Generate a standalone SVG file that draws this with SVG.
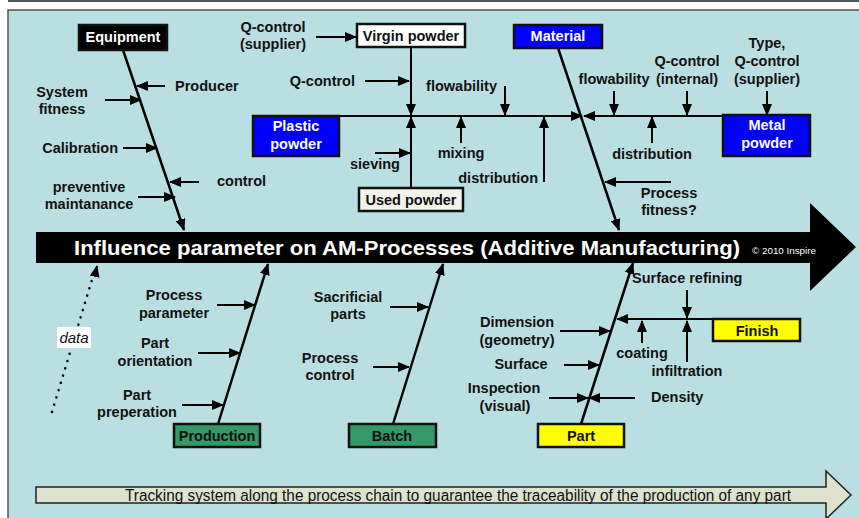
<svg xmlns="http://www.w3.org/2000/svg" width="859" height="518" viewBox="0 0 859 518">
<defs>
<marker id="ah" markerWidth="12" markerHeight="10" refX="11" refY="5" orient="auto" markerUnits="userSpaceOnUse"><path d="M0,0 L12,5 L0,10 z" fill="#000"/></marker>
<style>
.t{font-family:"Liberation Sans",Arial,sans-serif;font-size:14.5px;font-weight:bold;fill:#111}
.w{fill:#fff}
.m{text-anchor:middle}
.e{text-anchor:end}
.box{stroke:#111;stroke-width:2.5}
.c line{stroke:#000;stroke-width:2;marker-end:url(#ah)}
.c line.sp{stroke-width:2.5}
</style>
</defs>
<rect width="859" height="518" fill="#fff"/>
<line x1="8" y1="1" x2="859" y2="1" stroke="#555" stroke-width="2"/>
<rect x="8" y="10" width="860" height="520" fill="#badfe3" stroke="#555" stroke-width="1.5"/>

<g id="main-arrow">
<polygon points="36,232 810,232 810,203 856,247 810,291 810,263 36,263" fill="#000"/>
<text x="74" y="255" class="t w" style="font-size:20.5px" textLength="666" lengthAdjust="spacingAndGlyphs">Influence parameter on AM-Processes (Additive Manufacturing)</text>
<text x="752" y="254" style="font-family:'Liberation Sans',Arial,sans-serif;font-size:9px;fill:#fff" textLength="64" lengthAdjust="spacingAndGlyphs">© 2010 Inspire</text>
</g>

<g id="connectors" class="c">
<line class="sp" x1="123" y1="50" x2="184" y2="230"/>
<line x1="165" y1="86" x2="137" y2="86"/>
<line x1="105" y1="100" x2="141" y2="100"/>
<line x1="123" y1="148" x2="157" y2="148"/>
<line x1="199" y1="182" x2="170" y2="182"/>
<line x1="138" y1="197" x2="175" y2="197"/>

<line x1="316" y1="37" x2="356" y2="37"/>
<line x1="411" y1="48" x2="411" y2="115"/>
<line x1="365" y1="81" x2="409" y2="81"/>
<line x1="505" y1="86" x2="505" y2="115"/>
<line x1="411" y1="188" x2="411" y2="117"/>
<line x1="375" y1="153" x2="410" y2="153"/>
<line x1="461" y1="143" x2="461" y2="117"/>
<line x1="544" y1="182" x2="544" y2="117"/>
<line x1="339" y1="116" x2="582" y2="116"/>
<line x1="723" y1="116" x2="584" y2="116"/>

<line class="sp" x1="558" y1="48" x2="619" y2="230"/>
<line x1="614" y1="91" x2="614" y2="115"/>
<line x1="687" y1="91" x2="687" y2="115"/>
<line x1="767" y1="91" x2="767" y2="115"/>
<line x1="652" y1="143" x2="652" y2="117"/>
<line x1="671" y1="182" x2="605" y2="182"/>

<line class="sp" x1="218" y1="424" x2="268" y2="264"/>
<line x1="217" y1="305" x2="255" y2="305"/>
<line x1="198" y1="353" x2="240" y2="353"/>
<line x1="182" y1="405" x2="223" y2="405"/>

<line x1="52" y1="412" x2="94" y2="273" style="stroke-width:2.5;stroke-dasharray:0.1 7.5;stroke-linecap:round;marker-end:none"/>
<line x1="95" y1="275" x2="97" y2="266"/>

<line class="sp" x1="393" y1="424" x2="443" y2="264"/>
<line x1="390" y1="307" x2="428" y2="307"/>
<line x1="373" y1="367" x2="409" y2="367"/>

<line class="sp" x1="581" y1="424" x2="633" y2="263"/>
<line x1="560" y1="331" x2="610" y2="331"/>
<line x1="564" y1="365" x2="599" y2="365"/>
<line x1="549" y1="398" x2="588" y2="398"/>
<line x1="635" y1="398" x2="589" y2="398"/>
<line x1="713" y1="319" x2="617" y2="319"/>
<line x1="687" y1="290" x2="687" y2="318"/>
<line x1="642" y1="343" x2="642" y2="321"/>
<line x1="687" y1="362" x2="687" y2="321"/>
</g>

<g id="equipment">
<rect class="box" x="79" y="25" width="88" height="25" fill="#000"/>
<text x="123" y="42" class="t w m">Equipment</text>
</g>
<g id="equipment-labels">
<text x="175" y="91" class="t">Producer</text>
<text x="62" y="97" class="t m">System</text>
<text x="62" y="114" class="t m">fitness</text>
<text x="118" y="153" class="t e">Calibration</text>
<text x="217" y="186" class="t">control</text>
<text x="89" y="192" class="t m">preventive</text>
<text x="89" y="209" class="t m">maintanance</text>
</g>

<g id="virgin-powder">
<rect class="box" x="357" y="24" width="108" height="23" fill="#fff"/>
<text x="411" y="41" class="t m">Virgin powder</text>
</g>
<g id="used-powder">
<rect class="box" x="359" y="188" width="104" height="23" fill="#f3f3ec"/>
<text x="411" y="205" class="t m">Used powder</text>
</g>
<g id="plastic-powder">
<rect class="box" x="253" y="116" width="86" height="40" fill="#0000ff"/>
<text x="296" y="131" class="t w m">Plastic</text>
<text x="296" y="149" class="t w m">powder</text>
</g>
<g id="plastic-labels">
<text x="273" y="32" class="t m">Q-control</text>
<text x="273" y="49" class="t m">(supplier)</text>
<text x="355" y="86" class="t e">Q-control</text>
<text x="497" y="91" class="t e">flowability</text>
<text x="375" y="169" class="t m">sieving</text>
<text x="461" y="158" class="t m">mixing</text>
<text x="538" y="183" class="t e">distribution</text>
</g>

<g id="material">
<rect class="box" x="514" y="25" width="88" height="23" fill="#0000ff"/>
<text x="558" y="41" class="t w m">Material</text>
</g>
<g id="metal-powder">
<rect class="box" x="723" y="115" width="87" height="41" fill="#0000ff"/>
<text x="767" y="130" class="t w m">Metal</text>
<text x="767" y="148" class="t w m">powder</text>
</g>
<g id="metal-labels">
<text x="614" y="84" class="t m">flowability</text>
<text x="687" y="66" class="t m">Q-control</text>
<text x="687" y="84" class="t m">(internal)</text>
<text x="767" y="48" class="t m">Type,</text>
<text x="767" y="66" class="t m">Q-control</text>
<text x="767" y="84" class="t m">(supplier)</text>
<text x="652" y="159" class="t m">distribution</text>
<text x="669" y="198" class="t m">Process</text>
<text x="669" y="215" class="t m">fitness?</text>
</g>

<g id="production">
<rect class="box" x="174" y="424" width="86" height="23" fill="#339966"/>
<text x="217" y="441" class="t m">Production</text>
</g>
<g id="production-labels">
<text x="174" y="300" class="t m">Process</text>
<text x="174" y="318" class="t m">parameter</text>
<text x="155" y="348" class="t m">Part</text>
<text x="155" y="366" class="t m">orientation</text>
<text x="137" y="400" class="t m">Part</text>
<text x="137" y="417" class="t m">preperation</text>
</g>
<g id="data">
<rect x="57" y="327" width="34" height="21" fill="#fff"/>
<text x="74" y="343" class="m" style="font-family:'Liberation Sans',Arial,sans-serif;font-size:15px;font-style:italic;fill:#111">data</text>
</g>

<g id="batch">
<rect class="box" x="349" y="424" width="87" height="23" fill="#339966"/>
<text x="392" y="441" class="t m">Batch</text>
</g>
<g id="batch-labels">
<text x="348" y="302" class="t m">Sacrificial</text>
<text x="348" y="319" class="t m">parts</text>
<text x="330" y="363" class="t m">Process</text>
<text x="330" y="380" class="t m">control</text>
</g>

<g id="part">
<rect class="box" x="538" y="424" width="86" height="23" fill="#ffff00"/>
<text x="581" y="441" class="t m">Part</text>
</g>
<g id="finish">
<rect class="box" x="713" y="319" width="87" height="22" fill="#ffff00"/>
<text x="757" y="336" class="t m">Finish</text>
</g>
<g id="part-labels">
<text x="632" y="283" class="t">Surface refining</text>
<text x="517" y="327" class="t m">Dimension</text>
<text x="517" y="345" class="t m">(geometry)</text>
<text x="521" y="369" class="t m">Surface</text>
<text x="504" y="393" class="t m">Inspection</text>
<text x="505" y="411" class="t m">(visual)</text>
<text x="651" y="402" class="t">Density</text>
<text x="642" y="358" class="t m">coating</text>
<text x="687" y="376" class="t m">infiltration</text>
</g>

<g id="tracking">
<polygon points="36,487 826,487 826,471 851,495 826,519 826,503 36,503" fill="#dfe2cc" stroke="#222" stroke-width="1.5"/>
<text x="125" y="501" style="font-family:'Liberation Sans',Arial,sans-serif;font-size:16px;fill:#111" textLength="666" lengthAdjust="spacingAndGlyphs">Tracking system along the process chain to guarantee the traceability of the production of any part</text>
</g>
</svg>
